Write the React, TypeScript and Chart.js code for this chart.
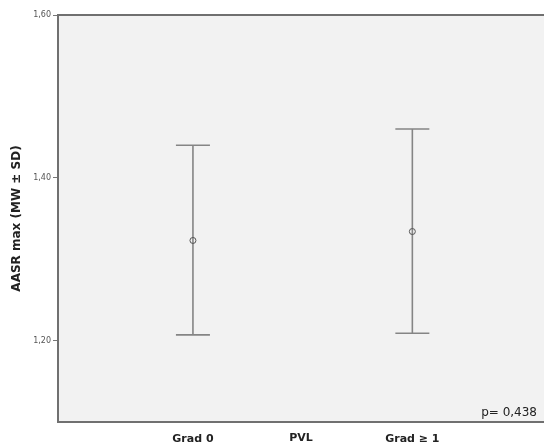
import React, { useEffect, useRef } from "react";
import { Chart, registerables } from "chart.js";

Chart.register(...registerables);

const categories = ["Grad 0", "Grad ≥ 1"];
const categoryPositions = [1, 2];
const means = [1.323, 1.334];
const upperSD = [1.44, 1.46];
const lowerSD = [1.207, 1.209];
const yTicks = [1.2, 1.4, 1.6];
const yMin = 1.1;
const yMax = 1.6;
const xMin = 0.385;
const xMax = 2.6;
const xTitle = "PVL";
const yTitle = "AASR max (MW ± SD)";
const pValueText = "p= 0,438";

const fmt = (v: number) => v.toFixed(2).replace(".", ",");
const noPadding = () => ({ left: 0, top: 0, right: 0, bottom: 0 });

const framePlugin = {
  id: "spssFrame",
  beforeDraw(chart: any) {
    const { ctx, chartArea } = chart;
    ctx.save();
    ctx.fillStyle = "#f2f2f2";
    ctx.fillRect(chartArea.left, chartArea.top, chartArea.right - chartArea.left, chartArea.bottom - chartArea.top);
    ctx.restore();
  },
  beforeDatasetsDraw(chart: any) {
    const { ctx } = chart;
    const xs = chart.scales.x;
    const ys = chart.scales.y;
    ctx.save();
    ctx.strokeStyle = "#858585";
    ctx.lineWidth = 1.6;
    for (let i = 0; i < means.length; i++) {
      const x = xs.getPixelForValue(categoryPositions[i]);
      const yt = ys.getPixelForValue(upperSD[i]);
      const yb = ys.getPixelForValue(lowerSD[i]);
      const half = 17;
      ctx.beginPath();
      ctx.moveTo(x, yt);
      ctx.lineTo(x, yb);
      ctx.moveTo(x - half, yt);
      ctx.lineTo(x + half, yt);
      ctx.moveTo(x - half, yb);
      ctx.lineTo(x + half, yb);
      ctx.stroke();
    }
    ctx.restore();
  },
  afterDraw(chart: any) {
    const { ctx, chartArea } = chart;
    ctx.save();
    ctx.strokeStyle = "#707070";
    ctx.lineWidth = 2;
    ctx.beginPath();
    ctx.moveTo(chartArea.right + 2, chartArea.top);
    ctx.lineTo(chartArea.left, chartArea.top);
    ctx.lineTo(chartArea.left, chartArea.bottom);
    ctx.lineTo(chartArea.right + 2, chartArea.bottom);
    ctx.stroke();
    ctx.fillStyle = "#222";
    ctx.font = "12px 'DejaVu Sans'";
    ctx.textAlign = "right";
    ctx.textBaseline = "middle";
    ctx.fillText(pValueText, chartArea.right - 7, chartArea.bottom - 9);
    ctx.restore();
  },
};

export default function App() {
  const ref = useRef<HTMLCanvasElement>(null);
  useEffect(() => {
    if (!ref.current) return;
    const chart = new Chart(ref.current, {
      type: "scatter",
      data: {
        datasets: [
          {
            data: categoryPositions.map((x, i) => ({ x, y: means[i] })),
            pointRadius: 3,
            pointBorderColor: "#555",
            pointBackgroundColor: "rgba(0,0,0,0)",
            pointBorderWidth: 1,
          },
        ],
      },
      options: {
        responsive: false,
        animation: false,
        layout: { autoPadding: false, padding: { top: 15, right: 0, bottom: 0, left: 0 } },
        plugins: { legend: { display: false }, tooltip: { enabled: false } },
        scales: {
          x: {
            type: "linear",
            min: xMin,
            max: xMax,
            afterBuildTicks: (s: any) => {
              s.ticks = categoryPositions.map((v) => ({ value: v }));
            },
            afterFit: (s: any) => {
              s.height = 26;
              s.paddingLeft = 0;
              s.paddingRight = 0;
              s.getPadding = noPadding;
            },
            ticks: {
              callback: (v: any) => {
                const i = categoryPositions.indexOf(Number(v));
                return i >= 0 ? categories[i] : "";
              },
              font: { family: "'DejaVu Sans'", size: 11, weight: "bold" },
              color: "#222",
              padding: 3,
              maxRotation: 0,
            },
            grid: { display: false },
            border: { display: false },
            title: {
              display: true,
              text: xTitle,
              font: { family: "'DejaVu Sans'", size: 11, weight: "bold" },
              color: "#222",
              padding: { top: 0, bottom: 3 },
            },
          },
          y: {
            min: yMin,
            max: yMax,
            afterBuildTicks: (s: any) => {
              s.ticks = yTicks.map((v) => ({ value: v }));
            },
            afterFit: (s: any) => {
              s.width = 58;
              s.getPadding = noPadding;
            },
            ticks: {
              callback: (v: any) => fmt(Number(v)),
              font: { family: "'DejaVu Sans'", size: 8 },
              color: "#555",
              padding: 2,
            },
            grid: {
              drawOnChartArea: false,
              drawTicks: true,
              tickLength: 5,
              color: "#777",
            },
            border: { display: false },
            title: {
              display: true,
              text: yTitle,
              font: { family: "'DejaVu Sans'", size: 12, weight: "bold" },
              color: "#222",
              padding: { top: 10, bottom: 0 },
            },
          },
        },
      },
      plugins: [framePlugin],
    } as any);
    return () => chart.destroy();
  }, []);
  return (
    <div style={{ position: "absolute", left: 0, top: 0, width: 544, height: 448 }}>
      <canvas ref={ref} width={544} height={448} style={{ display: "block" }} />
    </div>
  );
}
